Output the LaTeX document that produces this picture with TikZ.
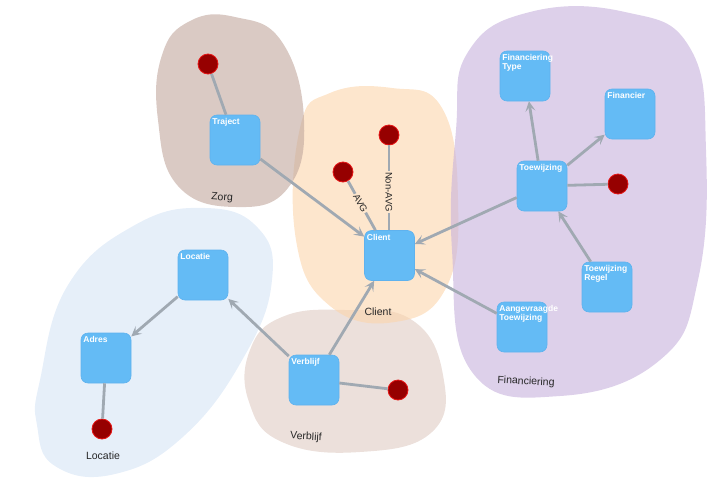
\documentclass[tikz,border=0pt]{standalone}
\usepackage{fontspec}
\setmainfont{Liberation Sans}
\usetikzlibrary{arrows.meta}
\definecolor{zorgc}{RGB}{193,167,157}
\definecolor{clientc}{RGB}{252,213,172}
\definecolor{clientl}{RGB}{253,230,205}
\definecolor{finc}{RGB}{198,177,220}
\definecolor{locc}{RGB}{213,228,245}
\definecolor{verc}{RGB}{223,203,195}
\definecolor{boxc}{RGB}{100,187,245}
\definecolor{boxb}{RGB}{95,178,238}
\definecolor{dotc}{RGB}{150,0,0}
\definecolor{dotb}{RGB}{230,20,20}
\definecolor{edgec}{RGB}{160,169,178}
\tikzset{
  blob/.style={fill opacity=0.6, draw=none},
  entity/.style={draw=boxb, line width=0.6pt, fill=boxc, rounded corners=7pt,
    minimum width=50pt, minimum height=50pt, inner sep=0pt},
  etext/.style={anchor=north west, text=white, font=\bfseries\fontsize{8.5}{9}\selectfont,
    inner sep=0pt, xshift=2.5pt, yshift=-3.5pt, align=left},
  attr/.style={circle, draw=dotb, line width=0.8pt, fill=dotc, minimum size=20pt, inner sep=0pt},
  rel/.style={draw=edgec, line width=2.8pt, -{Stealth[length=10pt,width=10pt,inset=4.5pt]}},
  link/.style={draw=edgec, line width=2.8pt},
  grp/.style={font=\fontsize{10.5}{12}\selectfont, text=black!85},
  elab/.style={font=\fontsize{9.5}{10}\selectfont, fill=clientl, inner sep=1pt, text=black!85}
}
\begin{document}
\begin{tikzpicture}[x=1pt,y=-1pt]
\useasboundingbox (0,0) rectangle (720,485);
% blobs
\fill[blob, fill=locc] plot[smooth cycle, tension=0.75] coordinates {(40,380) (68,285) (135,225) (205,208) (258,228) (272,280) (245,355) (185,435) (115,474) (55,466) (37,425)};
\fill[blob, fill=verc] plot[smooth cycle, tension=0.75] coordinates {(250,350) (282,317) (345,310) (412,320) (443,375) (432,432) (360,452) (282,442) (249,402)};
\fill[blob, fill=clientc] plot[smooth cycle, tension=0.75] coordinates {(300,128) (330,93) (392,88) (442,108) (458,200) (446,288) (395,322) (330,306) (296,240)};
\fill[blob, fill=zorgc] plot[smooth cycle, tension=0.75] coordinates {(162,55) (190,21) (235,17) (282,42) (304,120) (288,188) (236,207) (178,186) (158,120)};
\fill[blob, fill=finc] plot[smooth cycle, tension=0.75] coordinates {(468,52) (530,12) (625,12) (690,48) (706,150) (698,280) (660,360) (560,396) (472,372) (452,250) (456,130)};
% group labels
\node[grp, rotate=-4] (gzorg) at (222,198) {Zorg};
\node[grp] (gclient) at (378,312) {Client};
\node[grp, rotate=-3] (gfin) at (526,382) {Financiering};
\node[grp] (gloc) at (103,456) {Locatie};
\node[grp, rotate=-3] (gver) at (306,437) {Verblijf};
% entities
\node[entity, label={[etext]north west:Traject}] (traject) at (235,140) {};
\node[entity, label={[etext]north west:Client}] (client) at (389.5,255.5) {};
\node[entity, label={[etext]north west:Financiering\\Type}] (fintype) at (525,76) {};
\node[entity, label={[etext]north west:Financier}] (financier) at (630,114) {};
\node[entity, label={[etext]north west:Toewijzing}] (toew) at (542,186) {};
\node[entity, label={[etext]north west:Toewijzing\\Regel}] (toewr) at (607,287) {};
\node[entity, label={[etext]north west:Aangevraagde\\Toewijzing}] (aanv) at (522,327) {};
\node[entity, label={[etext]north west:Locatie}] (locatie) at (203,275) {};
\node[entity, label={[etext]north west:Adres}] (adres) at (106,358) {};
\node[entity, label={[etext]north west:Verblijf}] (verblijf) at (314,380) {};
% attributes
\node[attr] (dtraj) at (208,64) {};
\node[attr] (dnavg) at (389,135) {};
\node[attr] (davg) at (343,172) {};
\node[attr] (dtoew) at (618,184) {};
\node[attr] (dadres) at (102,429) {};
\node[attr] (dverb) at (398,390) {};
% connectors
\draw[link] (dtraj) -- (traject);
\draw[rel] (traject) -- (client);
\draw[link] (dnavg) -- node[elab, rotate=-90, pos=0.55] {Non-AVG} (client.north -| dnavg);
\draw[link] (davg) -- node[elab, rotate=-62, pos=0.45] {AVG} (client);
\draw[rel] (toew) -- (client);
\draw[rel] (aanv) -- (client);
\draw[rel] (verblijf) -- (client);
\draw[rel] (verblijf) -- (locatie);
\draw[rel] (locatie) -- (adres);
\draw[link] (adres) -- (dadres);
\draw[link] (verblijf) -- (dverb);
\draw[rel] (toew) -- (fintype);
\draw[rel] (toew) -- (financier);
\draw[link] (toew) -- (dtoew);
\draw[rel] (toewr) -- (toew);
\end{tikzpicture}
\end{document}
